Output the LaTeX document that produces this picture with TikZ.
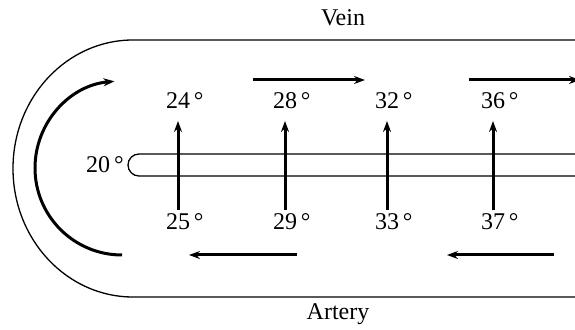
\documentclass[tikz,border=0pt]{standalone}
\usepackage{fontspec}
\setmainfont{Liberation Serif}
\usepackage{tikz}
\usetikzlibrary{arrows.meta}

\begin{document}
\begin{tikzpicture}[>={Stealth[length=11pt, width=8pt]}, x=1pt, y=1pt,
    every node/.style={font=\fontsize{24}{28}\selectfont, inner sep=1pt},
    flow/.style={->, line width=3pt},
    wall/.style={line width=1.3pt}]
  \useasboundingbox (0,0) rectangle (575,329);
  % outer loop: vein on top, artery below
  \draw[wall] (575,289) -- (133,289) arc[start angle=90, end angle=270, x radius=120, y radius=128.5] -- (575,32);
  % inner tube
  \draw[wall] (575,175) -- (139,175) arc[start angle=90, end angle=270, radius=11] -- (575,153);
  \node (vein) at (343,311) {Vein};
  \node (artery) at (338,15) {Artery};
  \node[anchor=east] (t20) at (125,164) {20\,°};
  % turning flow at the bend
  \coordinate (bendS) at (122,74);
  \draw[flow] (bendS) arc[start angle=270, end angle=95, radius=87];
  % flow along vein and artery
  \coordinate (vA) at (253,249); \coordinate (vB) at (365,249);
  \coordinate (vC) at (469,249); \coordinate (vD) at (580,249);
  \coordinate (aA) at (297,74); \coordinate (aB) at (189,74);
  \coordinate (aC) at (554,74); \coordinate (aD) at (447,74);
  \draw[flow] (vA) -- (vB);
  \draw[flow] (vC) -- (vD);
  \draw[flow] (aA) -- (aB);
  \draw[flow] (aC) -- (aD);
  % heat passing from artery to vein
  \foreach \x/\up/\lo in {178/24/25, 285/28/29, 387/32/33, 493/36/37} {
    \node (up\up) at (\x,228) {\up\rlap{\,°}};
    \node (lo\lo) at (\x,107) {\lo\rlap{\,°}};
    \draw[flow] (\x,119) -- (\x,208);
  }
\end{tikzpicture}
\end{document}
